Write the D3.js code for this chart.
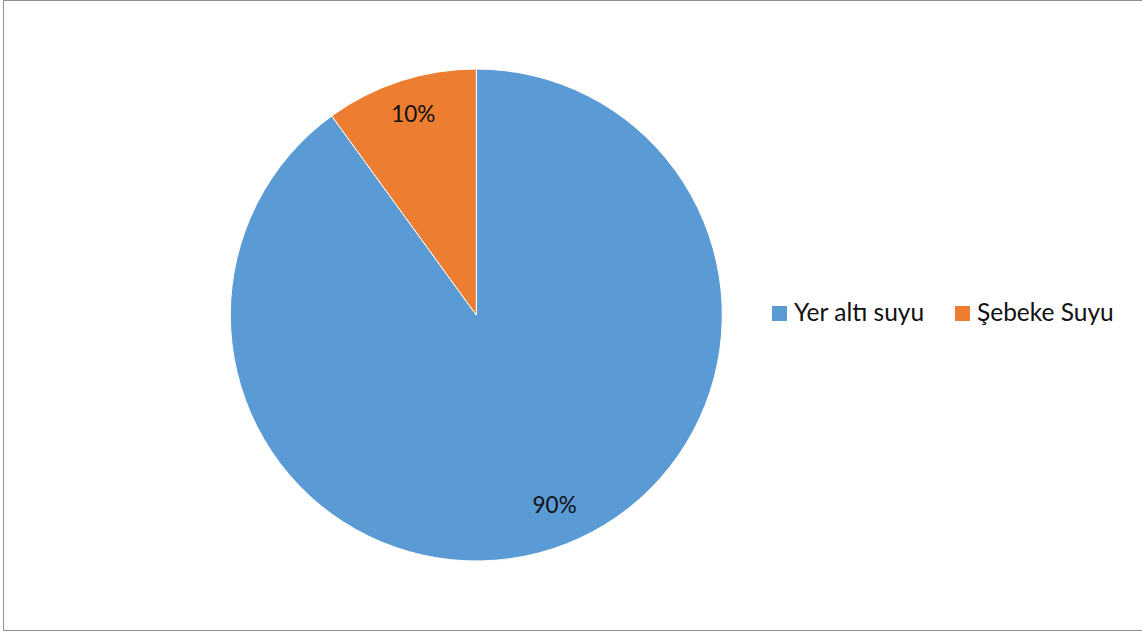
<!DOCTYPE html>
<html>
<head>
<meta charset="utf-8">
<script src="https://cdn.jsdelivr.net/npm/d3@7"></script>
<style>
  html, body { margin: 0; padding: 0; background: #fff; }
  svg { display: block; }
</style>
</head>
<body>
<svg id="chart" width="1142" height="632"></svg>
<script>
// Water source shares
const categories = ["Yer altı suyu", "Şebeke Suyu"];
const values = [90, 10];
const colors = ["#5B9BD5", "#ED7D31"];

const svg = d3.select("#chart");
const W = 1142, H = 632;
const font = "Lato, 'Open Sans', sans-serif";

// chart frame
svg.append("rect")
  .attr("x", 3.5).attr("y", 0.5)
  .attr("width", W + 10).attr("height", 630)
  .attr("fill", "#fff")
  .attr("stroke", "#8f8f8f")
  .attr("stroke-width", 1);

const cx = 476.3, cy = 315, R = 246;
const data = categories.map((c, i) => ({ name: c, value: values[i], color: colors[i] }));
const total = d3.sum(values);

const pie = d3.pie().value(d => d.value).sort(null)
  .startAngle(0).endAngle(2 * Math.PI);
const arcs = pie(data);
const arc = d3.arc().innerRadius(0).outerRadius(R);

// "best fit" label placement: radius and a small angular nudge per slice
const labelLayout = [{ r: 205.5, shift: -4.4 }, { r: 211, shift: 0.6 }];
function labelPos(d, i) {
  const a = (d.startAngle + d.endAngle) / 2 + labelLayout[i].shift * Math.PI / 180;
  const r = labelLayout[i].r;
  return [r * Math.sin(a), -r * Math.cos(a)];
}

const g = svg.append("g").attr("transform", `translate(${cx},${cy})`);

g.selectAll("path.slice")
  .data(arcs)
  .join("path")
  .attr("class", "slice")
  .attr("d", arc)
  .attr("fill", d => d.data.color)
  .attr("stroke", "#fff")
  .attr("stroke-width", 1);

g.selectAll("text.pct")
  .data(arcs)
  .join("text")
  .attr("class", "pct")
  .attr("transform", (d, i) => `translate(${labelPos(d, i)})`)
  .attr("text-anchor", "middle")
  .attr("dy", "0.35em")
  .attr("font-family", font)
  .attr("font-size", 22.5)
  .attr("fill", "#111")
  .text(d => Math.round(d.data.value / total * 100) + "%");

// legend
const legendX = [772, 955];
const leg = svg.append("g");
const items = leg.selectAll("g.item")
  .data(data)
  .join("g")
  .attr("class", "item")
  .attr("transform", (d, i) => `translate(${legendX[i]},306)`);
items.append("rect")
  .attr("width", 15).attr("height", 15)
  .attr("fill", d => d.color);
items.append("text")
  .attr("x", 22).attr("y", 15)
  .attr("font-family", font)
  .attr("font-size", 24.5)
  .attr("fill", "#111")
  .text(d => d.name);
</script>
</body>
</html>
